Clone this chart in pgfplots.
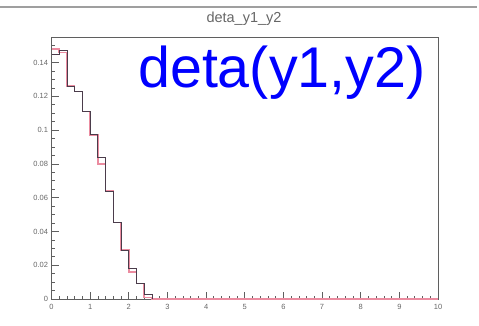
\documentclass[border=0pt]{standalone}
\usepackage{fontspec}
\setmainfont{Liberation Sans}
\usepackage{pgfplots}
\pgfplotsset{compat=1.18}
\definecolor{histred}{RGB}{235,140,160}
\definecolor{histblk}{RGB}{75,60,75}
\definecolor{axgray}{RGB}{95,95,95}
\begin{document}
\begin{tikzpicture}
\path[use as bounding box] (-51.5pt,-26pt) rectangle (427.5pt,299pt);
\begin{axis}[
  at={(0pt,0pt)}, anchor=south west,
  scale only axis, width=386.5pt, height=261.7pt,
  xmin=0, xmax=10, ymin=0, ymax=0.155,
  axis line style={axgray, line width=0.8pt},
  tick align=inside,
  xtick pos=bottom, ytick pos=left,
  major tick length=7pt, minor tick length=3.5pt,
  xtick distance=1, ytick distance=0.02,
  minor x tick num=4, minor y tick num=3,
  tick style={axgray, line width=0.7pt},
  ticklabel style={font=\fontsize{7.5}{8}\selectfont, text=black!60},
  xticklabel style={yshift=-1.5pt},
  /pgf/number format/assume math mode=true,
  scaled y ticks=false,
  yticklabel style={/pgf/number format/fixed},
  clip=false,
]
\addplot[const plot, histred, line width=1.6pt] coordinates {
(0,0.148) (0.2,0.146) (0.4,0.126) (0.6,0.123) (0.8,0.111) (1.0,0.0973)
(1.2,0.080) (1.4,0.064) (1.6,0.0453) (1.8,0.029) (2.0,0.016) (2.2,0.0093)
(2.4,0.001) (2.6,0) (10,0)};
\addplot[const plot, histblk, line width=0.8pt] coordinates {
(0,0.145) (0.2,0.147) (0.4,0.126) (0.6,0.123) (0.8,0.111) (1.0,0.0973)
(1.2,0.084) (1.4,0.064) (1.6,0.0453) (1.8,0.029) (2.0,0.018) (2.2,0.0093)
(2.4,0.0025) (2.6,0)};
\end{axis}
\draw[gray!75, line width=2pt] (-51.5pt,291.7pt) -- (425.5pt,291.7pt);
\node[font=\fontsize{14.5}{16}\selectfont, text=black!60] at (192.5pt,280.7pt) {deta\_y1\_y2};
\node[font=\fontsize{57.4}{60}\selectfont, text=blue, anchor=base west, inner sep=0pt] at (86.5pt,212pt) {deta(y1,y2)};
\end{tikzpicture}
\end{document}
